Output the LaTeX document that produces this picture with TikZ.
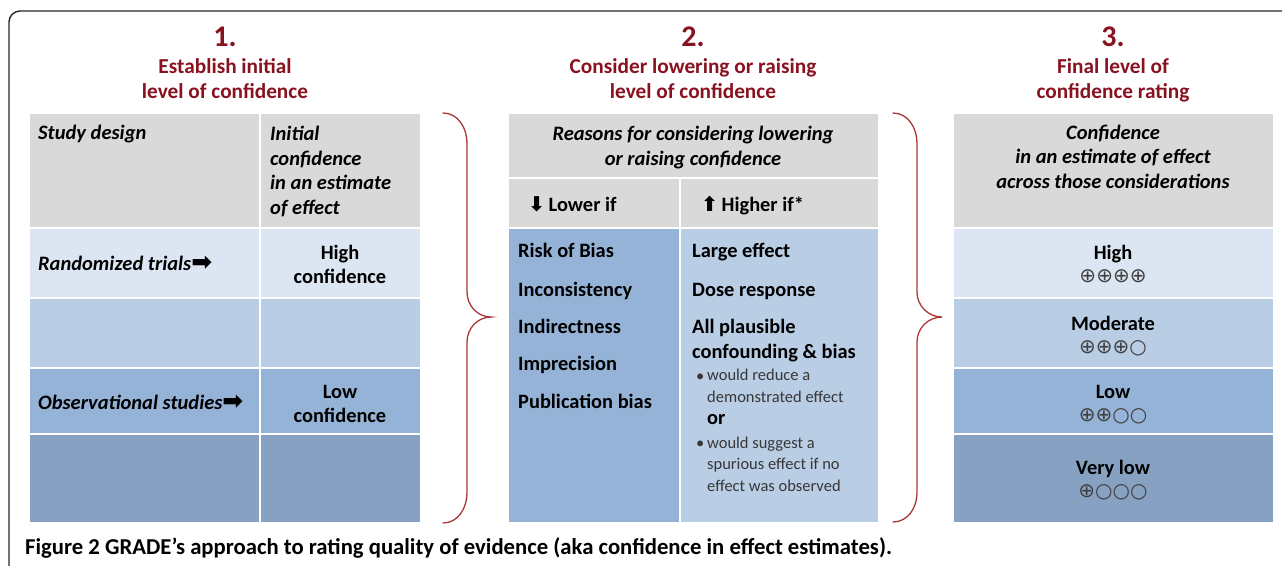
\documentclass[tikz,border=0pt]{standalone}
\usepackage{fontspec}
\setmainfont{Carlito}
\newfontfamily\symfont{DejaVu Sans}
\usepackage[dvipsnames]{xcolor}
\definecolor{titlered}{RGB}{137,18,32}
\definecolor{bracered}{RGB}{170,55,55}
\definecolor{hdrgray}{RGB}{217,217,217}
\definecolor{rowa}{RGB}{220,230,242}
\definecolor{rowb}{RGB}{185,205,229}
\definecolor{rowc}{RGB}{149,179,215}
\definecolor{rowd}{RGB}{134,161,194}
\definecolor{notegray}{RGB}{55,55,55}
\newcommand{\cellbox}[5]{\fill[#5] (#1+1,#2+1) rectangle (#3-1,#4-1);}
\newcommand{\rarrow}{{\symfont\fontsize{25}{25}\selectfont ➡}}

\begin{document}
\begin{tikzpicture}[x=1pt,y=-1pt,inner sep=0pt,
    stagenum/.style={font=\fontsize{30}{34}\selectfont\bfseries,text=titlered,anchor=base},
    stagetitle/.style={font=\fontsize{21.3}{24.5}\selectfont\bfseries,text=titlered,align=center,anchor=base},
    hdr/.style={font=\fontsize{20.5}{24.5}\selectfont\bfseries\itshape,align=left,anchor=base west},
    hdrc/.style={font=\fontsize{20.5}{24.5}\selectfont\bfseries\itshape,align=center,anchor=base},
    body/.style={font=\fontsize{20.4}{25}\selectfont\bfseries,align=left,anchor=base west},
    bodyc/.style={font=\fontsize{20.4}{24}\selectfont\bfseries,align=center,anchor=base},
    note/.style={font=\fontsize{16.5}{21.5}\selectfont,text=notegray,align=left,anchor=base west},
    rating/.style={font=\fontsize{20}{22}\symfont,text=black!75,anchor=base},
    brace/.style={draw=bracered,line width=1.3pt,line cap=round},
    caption/.style={font=\fontsize{22.7}{26}\selectfont\bfseries,anchor=base west}]
    \useasboundingbox (0,0) rectangle (1282,565);
    \clip (0,0) rectangle (1282,565);
    \draw[line width=1.4pt,rounded corners=11pt,black!85] (9,11) rectangle (1300,590);

    % column 1
    \cellbox{29}{113}{260}{228}{hdrgray}
    \cellbox{260}{113}{421}{228}{hdrgray}
    \foreach \ya/\yb/\c in {228/298/rowa,298/368/rowb,368/434/rowc,434/523/rowd}{
        \cellbox{29}{\ya}{260}{\yb}{\c}
        \cellbox{260}{\ya}{421}{\yb}{\c}
    }
    % column 2
    \cellbox{508}{113}{879}{178}{hdrgray}
    \cellbox{508}{178}{680}{228}{hdrgray}
    \cellbox{680}{178}{879}{228}{hdrgray}
    \cellbox{508}{228}{680}{523}{rowc}
    \cellbox{680}{228}{879}{523}{rowb}
    % column 3
    \cellbox{953}{113}{1274}{228}{hdrgray}
    \foreach \ya/\yb/\c in {228/298/rowa,298/368/rowb,368/434/rowc,434/523/rowd}{
        \cellbox{953}{\ya}{1274}{\yb}{\c}
    }

    % braces
    \draw[brace] (443,113) to[out=0,in=90] (467,143) -- (467,292) to[out=-90,in=180] (491,317)
        to[out=180,in=90] (467,342) -- (467,493) to[out=-90,in=0] (443,523);
    \draw[brace] (893,113) to[out=0,in=90] (917,143) -- (917,292) to[out=-90,in=180] (942,317)
        to[out=180,in=90] (917,342) -- (917,493) to[out=-90,in=0] (893,522);

    \node[stagenum] (n1) at (225,46) {1.};
    \node[stagetitle] (t1) at (225,98) {Establish initial\\level of confidence};
    \node[stagenum] (n2) at (693,46) {2.};
    \node[stagetitle] (t2) at (693,98) {Consider lowering or raising\\level of confidence};
    \node[stagenum] (n3) at (1113,46) {3.};
    \node[stagetitle] (t3) at (1113,98) {Final level of\\confidence rating};

    \node[hdr] (design) at (38,139) {Study design};
    \node[hdr] (initial) at (270,214) {Initial\\confidence\\in an estimate\\of effect};
    \node[hdr] (rct) at (38,270) {Randomized trials\rarrow};
    \node[bodyc] (high1) at (340,283) {High\\confidence};
    \node[hdr] (obs) at (38,409) {Observational studies\rarrow};
    \node[bodyc] (low1) at (340,422) {Low\\confidence};

    \node[hdrc] (reasons) at (693,165) {Reasons for considering lowering\\or raising confidence};
    \node[body] (lower) at (528,211) {{\symfont ⬇}\,Lower if};
    \node[body] (higher) at (701,211) {{\symfont ⬆}\,Higher if*};
    \node[body] (rob) at (518,257) {Risk of Bias};
    \node[body] (incons) at (518,296) {Inconsistency};
    \node[body] (indir) at (518,333) {Indirectness};
    \node[body] (imprec) at (518,370) {Imprecision};
    \node[body] (pubbias) at (518,408) {Publication bias};
    \node[body] (large) at (692,257) {Large effect};
    \node[body] (dose) at (692,296) {Dose response};
    \node[body] (plaus) at (692,358) {All plausible\\confounding \& bias};
    \node[note] (bul1) at (696,381) {•};
    \node[note] (reduce) at (707,402) {would reduce a\\demonstrated effect};
    \node[body] (or) at (707,424) {or};
    \node[note] (bul2) at (696,448) {•};
    \node[note] (suggest) at (707,491) {would suggest a\\spurious effect if no\\effect was observed};

    \node[hdrc] (conf) at (1113,188) {Confidence\\in an estimate of effect\\across those considerations};
    \node[bodyc] (high) at (1113,259) {High};
    \node[rating] (r4) at (1113,282) {⊕⊕⊕⊕};
    \node[bodyc] (mod) at (1113,330) {Moderate};
    \node[rating] (r3) at (1113,353) {⊕⊕⊕○};
    \node[bodyc] (low) at (1113,398) {Low};
    \node[rating] (r2) at (1113,421) {⊕⊕○○};
    \node[bodyc] (vlow) at (1113,474) {Very low};
    \node[rating] (r1) at (1113,497) {⊕○○○};

    \node[caption] (cap) at (25,554) {Figure 2 GRADE’s approach to rating quality of evidence (aka confidence in effect estimates).};
\end{tikzpicture}
\end{document}
